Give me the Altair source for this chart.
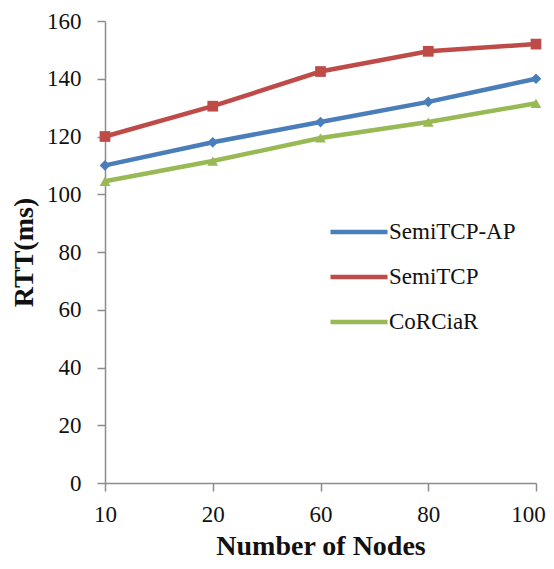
import altair as alt
import pandas as pd

nodes = ["10", "20", "60", "80", "100"]
semitcp_ap = [110, 118, 125, 132, 140]
semitcp = [120, 130.5, 142.5, 149.5, 152]
corciar = [104.5, 111.5, 119.5, 125, 131.5]

series_names = ["SemiTCP-AP", "SemiTCP", "CoRCiaR"]
series_values = [semitcp_ap, semitcp, corciar]
colors = ["#4A7EBB", "#BE4B48", "#98B954"]
shapes = ["diamond", "square", "triangle-up"]

rows = []
for name, vals in zip(series_names, series_values):
    for n, v in zip(nodes, vals):
        rows.append({"nodes": n, "rtt": v, "series": name, "series_pt": name})
df = pd.DataFrame(rows)

FONT = "Liberation Serif"

x = alt.X("nodes:N", sort=nodes,
          scale=alt.Scale(type="point", padding=0),
          axis=alt.Axis(title="Number of Nodes", labelAngle=0,
                        labelOffset={"expr": "datum.label == '100' ? -8 : 0"}))
y = alt.Y("rtt:Q", scale=alt.Scale(domain=[0, 160], nice=False, zero=True),
          axis=alt.Axis(title="RTT(ms)", values=[0, 20, 40, 60, 80, 100, 120, 140, 160]))
color = alt.Color("series:N", sort=series_names,
                  scale=alt.Scale(domain=series_names, range=colors),
                  legend=alt.Legend(title=None, orient="none", legendX=242, legendY=199,
                                    symbolType="M-3,0H3", symbolSize=361,
                                    symbolStrokeWidth=4.5, labelFont=FONT,
                                    labelFontSize=23, labelColor="#111",
                                    rowPadding=21, labelOffset=18, padding=0))

lines = alt.Chart(df).mark_line(strokeWidth=4.5).encode(x=x, y=y, color=color)
points = alt.Chart(df).mark_point(filled=True, opacity=1, size=115).encode(
    x=x, y=y,
    color=alt.Color("series_pt:N", sort=series_names,
                    scale=alt.Scale(domain=series_names, range=colors), legend=None),
    shape=alt.Shape("series_pt:N", sort=series_names,
                    scale=alt.Scale(domain=series_names, range=shapes), legend=None),
)

chart = (lines + points).resolve_scale(color="independent").resolve_legend(
    color="independent", shape="independent"
).properties(
    width=431, height=462,
    autosize=alt.AutoSizeParams(type="none"),
    padding={"left": 97, "top": 13, "right": 10, "bottom": 78},
).configure_view(stroke=None).configure_axis(
    grid=False, domainColor="#8c8c8c", domainWidth=1.5, tickColor="#8c8c8c",
    tickWidth=1.5, tickSize=8, labelFont=FONT, labelFontSize=23, labelColor="#111",
    titleFont=FONT, titleFontWeight="bold", titleFontSize=28,
    titleColor="#111",
).configure_axisY(labelPadding=16, titlePadding=8).configure_axisX(labelPadding=12, titlePadding=6)

chart.save("out.html", embed_options={"renderer": "svg", "actions": False})
